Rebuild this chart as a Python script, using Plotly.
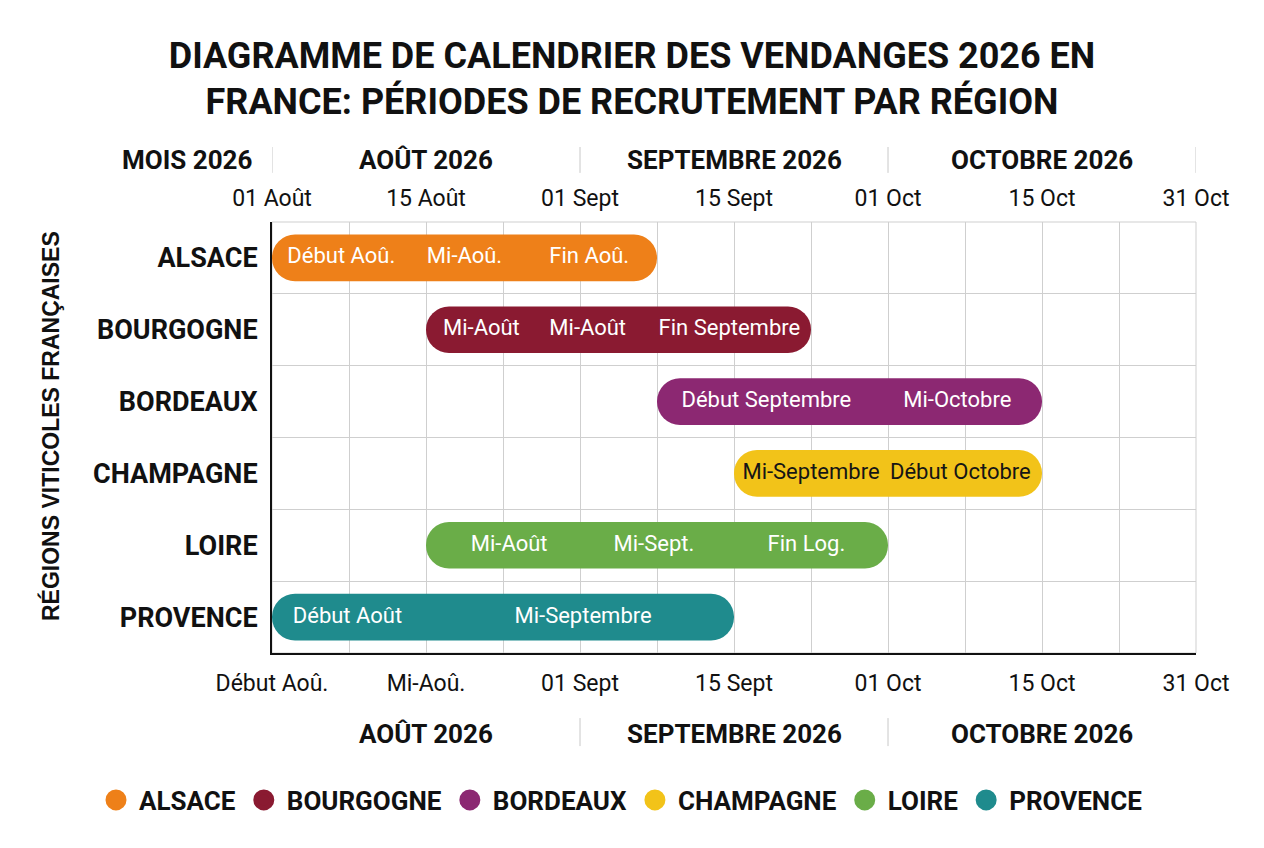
import plotly.graph_objects as go

# ---------------- data ----------------
regions = ["ALSACE", "BOURGOGNE", "BORDEAUX", "CHAMPAGNE", "LOIRE", "PROVENCE"]
# positions in half-month units (0 = 01 Août, 1 = 15 Août, 2 = 01 Sept, ... 6 = 31 Oct)
starts = [0.0, 1.0, 2.5, 3.0, 1.0, 0.0]
ends = [2.5, 3.5, 5.0, 5.0, 4.0, 3.0]
colors = ["#EE8019", "#8A1A31", "#8C2872", "#F2C319", "#6AAD48", "#1F8B8D"]
text_colors = ["white", "white", "white", "#151515", "white", "white"]

labels_alsace = ["Début Aoû.", "Mi-Aoû.", "Fin Aoû."]
labels_alsace_x = [0.45, 1.25, 2.06]
labels_bourgogne = ["Mi-Août", "Mi-Août", "Fin Septembre"]
labels_bourgogne_x = [1.36, 2.05, 2.97]
labels_bordeaux = ["Début Septembre", "Mi-Octobre"]
labels_bordeaux_x = [3.21, 4.45]
labels_champagne = ["Mi-Septembre", "Début Octobre"]
labels_champagne_x = [3.50, 4.47]
labels_loire = ["Mi-Août", "Mi-Sept.", "Fin Log."]
labels_loire_x = [1.54, 2.48, 3.47]
labels_provence = ["Début Août", "Mi-Septembre"]
labels_provence_x = [0.49, 2.02]

bar_labels = [labels_alsace, labels_bourgogne, labels_bordeaux,
              labels_champagne, labels_loire, labels_provence]
bar_labels_x = [labels_alsace_x, labels_bourgogne_x, labels_bordeaux_x,
                labels_champagne_x, labels_loire_x, labels_provence_x]

tick_vals = [0, 1, 2, 3, 4, 5, 6]
top_tick_text = ["01 Août", "15 Août", "01 Sept", "15 Sept", "01 Oct", "15 Oct", "31 Oct"]
bottom_tick_text = ["Début Aoû.", "Mi-Aoû.", "01 Sept", "15 Sept", "01 Oct", "15 Oct", "31 Oct"]
months = ["AOÛT 2026", "SEPTEMBRE 2026", "OCTOBRE 2026"]
month_centers = [1, 3, 5]
month_bounds = [0, 2, 4, 6]

FONT = "Roboto, Arial, sans-serif"
GRID = "#cfcfcf"

fig = go.Figure()

# bars
fig.add_trace(go.Bar(
    y=regions, base=starts, x=[e - s for s, e in zip(starts, ends)],
    orientation="h", width=0.65,
    marker=dict(color=colors, cornerradius="50%", line=dict(width=0)),
    showlegend=False, hoverinfo="skip",
))

# labels inside bars
for reg, labs, xs, tc in zip(regions, bar_labels, bar_labels_x, text_colors):
    fig.add_trace(go.Scatter(
        x=xs, y=[reg] * len(xs), mode="text", text=labs,
        textposition="middle center",
        textfont=dict(family=FONT, size=22, color=tc),
        showlegend=False, hoverinfo="skip",
    ))

# legend entries
for reg, col in zip(regions, colors):
    fig.add_trace(go.Scatter(
        x=[None], y=[None], mode="markers", name=reg,
        marker=dict(symbol="circle", size=26, color=col, line=dict(color=col, width=5)),
        xaxis="x2", showlegend=True,
    ))

shapes = []
# frame (gray)
shapes.append(dict(type="rect", xref="paper", yref="paper", x0=0, x1=1, y0=0, y1=1,
                   line=dict(color=GRID, width=1), layer="below"))
# top separators
for b in month_bounds:
    shapes.append(dict(type="line", xref="x", yref="paper", x0=b, x1=b, y0=1.114, y1=1.174,
                       line=dict(color="#c8c8c8", width=1)))
# bottom separators
for b in month_bounds[1:-1]:
    shapes.append(dict(type="line", xref="x", yref="paper", x0=b, x1=b, y0=-0.151, y1=-0.216,
                       line=dict(color="#c8c8c8", width=1)))

annotations = []
annotations.append(dict(text="MOIS 2026", xref="paper", yref="paper", x=-0.018, y=1.144,
                        xanchor="right", yanchor="middle", showarrow=False,
                        font=dict(family=FONT, size=26, color="#111", weight="bold")))
for m, c in zip(months, month_centers):
    annotations.append(dict(text=m, xref="x", yref="paper", x=c, y=1.144,
                            xanchor="center", yanchor="middle", showarrow=False,
                            font=dict(family=FONT, size=26, color="#111", weight="bold")))
    annotations.append(dict(text=m, xref="x", yref="paper", x=c, y=-0.188,
                            xanchor="center", yanchor="middle", showarrow=False,
                            font=dict(family=FONT, size=26, color="#111", weight="bold")))
annotations.append(dict(text="RÉGIONS VITICOLES FRANÇAISES", xref="paper", yref="paper",
                        x=(50 - 272) / 924, y=(653 - 426) / 431, textangle=-90,
                        xanchor="center", yanchor="middle", showarrow=False,
                        font=dict(family="Liberation Sans, Arial, sans-serif", size=23,
                                  color="#111", weight="bold")))

fig.update_layout(
    width=1264, height=848,
    margin=dict(l=272, r=68, t=222, b=195),
    paper_bgcolor="white", plot_bgcolor="white",
    title=dict(
        text="DIAGRAMME DE CALENDRIER DES VENDANGES 2026 EN<br>FRANCE: PÉRIODES DE RECRUTEMENT PAR RÉGION",
        x=0.5, xanchor="center", y=1 - 67.5 / 848, yanchor="middle",
        font=dict(family=FONT, size=36, color="#111", weight="bold"),
    ),
    xaxis=dict(
        range=[0, 6], tickmode="array", tickvals=tick_vals, ticktext=bottom_tick_text,
        showgrid=True, gridcolor=GRID, gridwidth=1,
        minor=dict(dtick=0.5, tick0=0, showgrid=True, gridcolor=GRID, gridwidth=1),
        showline=True, linecolor="#111", linewidth=2,
        ticks="", ticklabelstandoff=8, zeroline=False,
        tickfont=dict(family=FONT, size=23, color="#111"),
    ),
    xaxis2=dict(
        range=[0, 6], overlaying="x", side="top", anchor="y",
        tickmode="array", tickvals=tick_vals, ticktext=top_tick_text,
        showgrid=False, showline=False, ticks="", ticklabelstandoff=10, zeroline=False,
        tickfont=dict(family=FONT, size=23, color="#111"),
    ),
    yaxis=dict(
        type="category", categoryorder="array", categoryarray=regions,
        range=[5.5, -0.5], tickson="boundaries",
        showgrid=True, gridcolor=GRID, gridwidth=1,
        showline=True, linecolor="#111", linewidth=2,
        ticks="", ticklabelstandoff=7, zeroline=False,
        tickfont=dict(family=FONT, size=27, color="#111", weight="bold"),
    ),
    legend=dict(
        orientation="h", xref="paper", x=(93 - 272) / 924, xanchor="left",
        yref="paper", y=(653 - 800) / 431, yanchor="middle",
        font=dict(family=FONT, size=26, color="#111", weight="bold"),
        itemsizing="trace", itemwidth=36, traceorder="normal",
    ),
    shapes=shapes, annotations=annotations,
    bargap=0.3,
)

fig.write_html("out.html")
